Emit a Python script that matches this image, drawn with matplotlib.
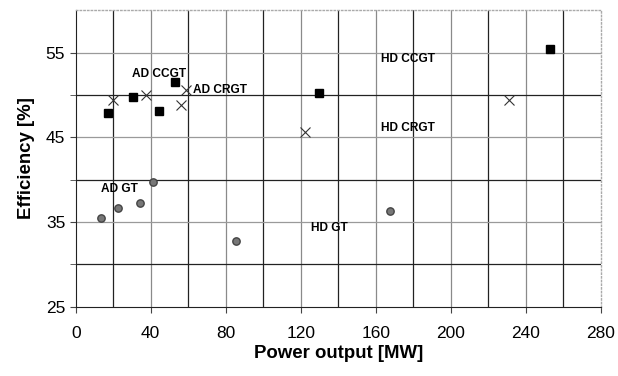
import matplotlib
matplotlib.use("Agg")
import matplotlib.pyplot as plt

plt.rcParams['font.family'] = ['Liberation Sans', 'DejaVu Sans']

ccgt_x = [17.4, 30.6, 44.3, 53.0, 129.9, 252.9]
ccgt_y = [47.9, 49.8, 48.1, 51.5, 50.2, 55.4]
crgt_x = [20.1, 37.3, 59.0, 56.2, 122.5, 231.3]
crgt_y = [49.4, 50.0, 50.6, 48.8, 45.6, 49.4]
gt_x = [13.3, 22.7, 34.1, 41.1, 85.3, 167.8]
gt_y = [35.5, 36.7, 37.2, 39.7, 32.7, 36.3]

labels = ["AD CCGT", "AD CRGT", "HD CCGT", "HD CRGT", "AD GT", "HD GT"]
label_x = [29.8, 62.7, 162.8, 162.8, 13.7, 125.3]
label_y = [52.5, 50.6, 54.3, 46.1, 38.9, 34.3]

xticks = [0, 40, 80, 120, 160, 200, 240, 280]
yticks = [25, 35, 45, 55]
yminor = [30, 40, 50]

fig = plt.figure(figsize=(6.18, 3.76), dpi=100)
ax = fig.add_axes([0.1225, 0.1843, 0.972 - 0.1225, 0.9726 - 0.1843])
ax.set_xlim(0, 280)
ax.set_ylim(25, 60)

# grid lines
for v in [20, 60, 100, 140, 180, 220, 260]:
    ax.axvline(v, color='#222222', lw=0.9, zorder=1)
for v in [40, 80, 120, 160, 200, 240]:
    ax.axvline(v, color='#8a8a8a', lw=0.9, zorder=1)
for v in [30, 40, 50]:
    ax.axhline(v, color='#222222', lw=0.9, zorder=1)
for v in [35, 45, 55]:
    ax.axhline(v, color='#9a9a9a', lw=0.9, zorder=1)

ax.plot(ccgt_x, ccgt_y, 's', color='black', ms=5.3, zorder=3, ls='none')
ax.plot(crgt_x, crgt_y, 'x', color='#333333', ms=6.5, mew=0.8, zorder=3, ls='none')
ax.plot(gt_x, gt_y, 'o', mfc='#777777', mec='#444444', ms=5.3, mew=1.0, zorder=3, ls='none')

for t, x, y in zip(labels, label_x, label_y):
    ax.text(x, y, t, fontsize=8.6, fontweight='bold', va='center', ha='left', zorder=4)

ax.set_xticks(xticks)
ax.set_yticks(yticks)
ax.set_yticks(yminor, minor=True)
ax.tick_params(which='both', labelsize=12.5, direction='out', length=4, color='#444444')
ax.tick_params(axis='x', pad=10)
for s in ['top', 'right']:
    ax.spines[s].set_color('#aaaaaa')
    ax.spines[s].set_linestyle(':')
    ax.spines[s].set_linewidth(1.0)
ax.spines['left'].set_color('#222222')
ax.spines['bottom'].set_color('#222222')

ax.set_xlabel('Power output [MW]', fontsize=13.4, fontweight='bold', labelpad=3)
ax.set_ylabel('Efficiency [%]', fontsize=13.4, fontweight='bold', labelpad=8)

fig.savefig('out.png', dpi=100)
